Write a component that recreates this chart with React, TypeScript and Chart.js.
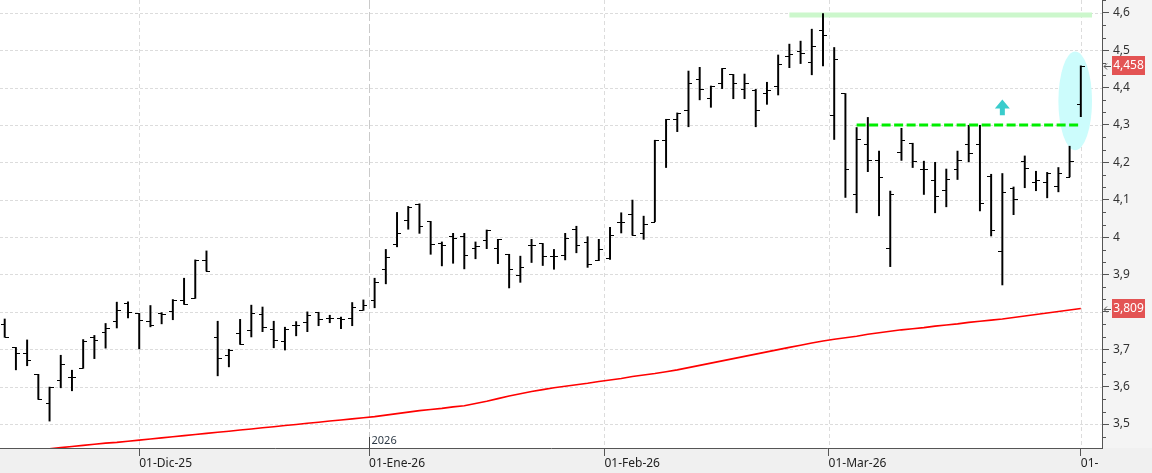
import { useEffect, useRef } from 'react';
import { Chart, registerables } from 'chart.js';

Chart.register(...registerables);

// Trading sessions (one OHLC bar per session)
const DATES = [
  '2025-11-13', '2025-11-14', '2025-11-17', '2025-11-18', '2025-11-19', '2025-11-20', '2025-11-21',
  '2025-11-24', '2025-11-25', '2025-11-26', '2025-11-27', '2025-11-28',
  '2025-12-01', '2025-12-02', '2025-12-03', '2025-12-04', '2025-12-05', '2025-12-08', '2025-12-09',
  '2025-12-10', '2025-12-11', '2025-12-12', '2025-12-15', '2025-12-16', '2025-12-17', '2025-12-18',
  '2025-12-19', '2025-12-22', '2025-12-23', '2025-12-24', '2025-12-29', '2025-12-30', '2025-12-31',
  '2026-01-02', '2026-01-05', '2026-01-06', '2026-01-07', '2026-01-08', '2026-01-09', '2026-01-12',
  '2026-01-13', '2026-01-14', '2026-01-15', '2026-01-16', '2026-01-19', '2026-01-20', '2026-01-21',
  '2026-01-22', '2026-01-23', '2026-01-26', '2026-01-27', '2026-01-28', '2026-01-29', '2026-01-30',
  '2026-02-02', '2026-02-03', '2026-02-04', '2026-02-05', '2026-02-06', '2026-02-09', '2026-02-10',
  '2026-02-11', '2026-02-12', '2026-02-13', '2026-02-16', '2026-02-17', '2026-02-18', '2026-02-19',
  '2026-02-20', '2026-02-23', '2026-02-24', '2026-02-25', '2026-02-26', '2026-02-27',
  '2026-03-02', '2026-03-03', '2026-03-04', '2026-03-05', '2026-03-06', '2026-03-09', '2026-03-10',
  '2026-03-11', '2026-03-12', '2026-03-13', '2026-03-16', '2026-03-17', '2026-03-18', '2026-03-19',
  '2026-03-20', '2026-03-23', '2026-03-24', '2026-03-25', '2026-03-26', '2026-03-27', '2026-03-30',
  '2026-03-31', '2026-04-01',
];

const OPEN = [
  3.767, 3.705, 3.689, 3.633, 3.555, 3.617, 3.626, 3.649, 3.734, 3.745, 3.775, 3.824,
  3.796, 3.775, 3.796, 3.802, 3.833, 3.836, 3.940, 3.734, 3.684, 3.743, 3.751, 3.794, 3.753, 3.721,
  3.764, 3.772, 3.799, 3.783, 3.784, 3.783, 3.806,
  3.832, 3.914, 3.981, 4.045, 4.088, 4.042, 3.983, 4.003, 4.003, 3.970, 3.991, 3.970, 3.954, 3.898,
  3.979, 3.983, 3.949, 3.951, 4.021, 3.987, 3.939,
  3.943, 4.041, 4.061, 4.010, 4.041, 4.259, 4.315, 4.339, 4.424, 4.371, 4.411, 4.435, 4.396, 4.393,
  4.384, 4.403, 4.484, 4.498, 4.468, 4.553,
  4.326, 4.384, 4.115, 4.248, 4.206, 3.970, 4.227, 4.251, 4.182, 4.152, 4.125, 4.182, 4.249, 4.249,
  4.164, 3.962, 4.132, 4.203, 4.146, 4.146, 4.136, 4.161, 4.356,
];
const HIGH = [
  3.781, 3.705, 3.725, 3.633, 3.599, 3.684, 3.644, 3.726, 3.737, 3.769, 3.826, 3.827,
  3.796, 3.817, 3.798, 3.833, 3.890, 3.939, 3.963, 3.775, 3.700, 3.780, 3.818, 3.813, 3.775, 3.759,
  3.774, 3.800, 3.799, 3.791, 3.786, 3.825, 3.832,
  3.890, 3.967, 4.066, 4.082, 4.089, 4.042, 3.987, 4.010, 4.010, 3.987, 4.019, 3.994, 3.954, 3.949,
  3.994, 3.983, 3.967, 4.010, 4.029, 4.001, 3.994,
  4.026, 4.065, 4.099, 4.056, 4.259, 4.315, 4.332, 4.444, 4.454, 4.404, 4.451, 4.435, 4.436, 4.395,
  4.414, 4.487, 4.516, 4.524, 4.556, 4.598,
  4.507, 4.384, 4.293, 4.320, 4.230, 4.123, 4.291, 4.251, 4.203, 4.200, 4.182, 4.230, 4.299, 4.299,
  4.168, 4.170, 4.134, 4.217, 4.176, 4.173, 4.186, 4.243, 4.458,
];
const LOW = [
  3.732, 3.645, 3.656, 3.566, 3.508, 3.597, 3.589, 3.649, 3.675, 3.703, 3.757, 3.784,
  3.701, 3.760, 3.768, 3.779, 3.820, 3.836, 3.909, 3.629, 3.653, 3.713, 3.733, 3.747, 3.704, 3.698,
  3.736, 3.747, 3.763, 3.771, 3.755, 3.763, 3.804,
  3.811, 3.875, 3.974, 4.021, 4.010, 3.954, 3.923, 3.930, 3.915, 3.942, 3.969, 3.929, 3.864, 3.879,
  3.932, 3.924, 3.914, 3.939, 3.958, 3.919, 3.937,
  3.940, 4.011, 4.005, 3.994, 4.041, 4.186, 4.282, 4.295, 4.367, 4.347, 4.397, 4.370, 4.370, 4.295,
  4.355, 4.380, 4.453, 4.464, 4.434, 4.458,
  4.261, 4.106, 4.065, 4.175, 4.057, 3.921, 4.205, 4.186, 4.114, 4.065, 4.081, 4.154, 4.201, 4.070,
  4.003, 3.872, 4.060, 4.132, 4.124, 4.105, 4.121, 4.161, 4.322,
];
const CLOSE = [
  3.732, 3.689, 3.671, 3.568, 3.599, 3.660, 3.626, 3.722, 3.725, 3.758, 3.804, 3.801,
  3.777, 3.765, 3.793, 3.833, 3.820, 3.939, 3.910, 3.676, 3.699, 3.713, 3.797, 3.759, 3.726, 3.755,
  3.766, 3.791, 3.780, 3.783, 3.782, 3.813, 3.818,
  3.879, 3.946, 4.010, 4.081, 4.029, 3.982, 3.978, 3.997, 3.951, 3.976, 4.019, 3.994, 3.914, 3.919,
  3.979, 3.949, 3.949, 3.998, 3.979, 3.929, 3.969,
  4.005, 4.041, 4.005, 4.034, 4.259, 4.315, 4.332, 4.411, 4.397, 4.404, 4.451, 4.411, 4.411, 4.341,
  4.392, 4.462, 4.489, 4.491, 4.510, 4.540,
  4.475, 4.182, 4.261, 4.206, 4.160, 4.115, 4.259, 4.203, 4.182, 4.111, 4.155, 4.206, 4.226, 4.090,
  4.020, 4.120, 4.103, 4.186, 4.152, 4.171, 4.171, 4.203, 4.458,
];

// Long moving average (red line)
const MA = [
  3.424, 3.426, 3.429, 3.431, 3.434, 3.437, 3.440, 3.443, 3.446, 3.449, 3.451, 3.454,
  3.457, 3.460, 3.463, 3.466, 3.469, 3.472, 3.475, 3.478, 3.481, 3.484, 3.487, 3.490, 3.493, 3.496,
  3.499, 3.502, 3.505, 3.508, 3.511, 3.514, 3.517,
  3.520, 3.524, 3.528, 3.532, 3.536, 3.539, 3.542, 3.546, 3.549, 3.555, 3.561, 3.568, 3.575, 3.581,
  3.587, 3.592, 3.597, 3.601, 3.605, 3.609, 3.614,
  3.618, 3.622, 3.627, 3.631, 3.635, 3.640, 3.645, 3.651, 3.657, 3.663, 3.669, 3.675, 3.681, 3.687,
  3.693, 3.699, 3.705, 3.711, 3.717, 3.722,
  3.727, 3.731, 3.735, 3.740, 3.744, 3.748, 3.752, 3.755, 3.758, 3.762, 3.765, 3.768, 3.772, 3.775,
  3.778, 3.781, 3.785, 3.789, 3.793, 3.797, 3.801, 3.805, 3.809,
];

// Axis ticks (x in session index units)
const MONTH_TICKS = [12, 32.5, 53.5, 73.5, 96];
const MONTH_LABELS = ['01-Dic-25', '01-Ene-26', '01-Feb-26', '01-Mar-26', '01-'];
const YEAR_TICK = 32.5;
const YEAR_LABEL = '2026';
const Y_TICKS = [3.5, 3.6, 3.7, 3.8, 3.9, 4.0, 4.1, 4.2, 4.3, 4.4, 4.5, 4.6];
const Y_LABELS = ['3,5', '3,6', '3,7', '3,8', '3,9', '4', '4,1', '4,2', '4,3', '4,4', '4,5', '4,6'];

// Annotations
const TOP_BAND_X = [70, 97];
const TOP_BAND_Y = 4.594;
const RESIST_X = [76, 96];
const RESIST_Y = 4.3;
const ARROW = { x: 89, top: 4.368, bottom: 4.326 };
const ELLIPSE = { x: 95.5, y: 4.364, rx: 1.5, ry: 0.132 };

const FONT = '"Noto Sans", "Liberation Sans", sans-serif';

const fmt = (v: number) => v.toFixed(3).replace('.', ',');

const decor = {
  id: 'decor',
  beforeDraw(chart: any) {
    const { ctx, chartArea: a, width, height } = chart;
    ctx.save();
    ctx.fillStyle = '#ffffff';
    ctx.fillRect(0, 0, width, height);
    ctx.fillStyle = '#f4f4f4';
    ctx.fillRect(a.right, 0, width - a.right, a.bottom);
    ctx.fillStyle = '#f0f0f0';
    ctx.fillRect(0, a.bottom, width, height - a.bottom);
    ctx.restore();
  },
  beforeDatasetsDraw(chart: any) {
    const { ctx, chartArea: a, scales } = chart;
    const x = scales.x;
    const y = scales.y;
    ctx.save();
    ctx.lineWidth = 1;
    ctx.strokeStyle = '#dcdcdc';
    ctx.setLineDash([3, 2]);
    Y_TICKS.forEach((v) => {
      const py = Math.round(y.getPixelForValue(v)) + 0.5;
      ctx.beginPath();
      ctx.moveTo(a.left, py);
      ctx.lineTo(a.right, py);
      ctx.stroke();
    });
    MONTH_TICKS.forEach((v) => {
      const px = Math.round(x.getPixelForValue(v)) + 0.5;
      const isYear = v === YEAR_TICK;
      ctx.strokeStyle = isYear ? '#cacaca' : '#dcdcdc';
      ctx.setLineDash(isYear ? [9, 3] : [4, 3]);
      ctx.beginPath();
      ctx.moveTo(px, a.top);
      ctx.lineTo(px, a.bottom);
      ctx.stroke();
    });
    ctx.setLineDash([]);
    const cx = x.getPixelForValue(ELLIPSE.x);
    const cy = y.getPixelForValue(ELLIPSE.y);
    const rx = Math.abs(x.getPixelForValue(ELLIPSE.x + ELLIPSE.rx) - cx);
    const ry = Math.abs(y.getPixelForValue(ELLIPSE.y + ELLIPSE.ry) - cy);
    ctx.fillStyle = '#ccfcfc';
    ctx.beginPath();
    ctx.ellipse(cx, cy, rx, ry, 0, 0, Math.PI * 2);
    ctx.fill();
    ctx.restore();
  },
  afterDatasetDraw(chart: any, args: any) {
    if (args.index !== 0) return;
    const { ctx, scales } = chart;
    const x = scales.x;
    const y = scales.y;
    ctx.save();
    ctx.strokeStyle = '#000000';
    ctx.lineWidth = 1;
    DATES.forEach((_, i) => {
      const px = Math.round(x.getPixelForValue(i));
      const po = Math.round(y.getPixelForValue(OPEN[i])) + 0.5;
      const pc = Math.round(y.getPixelForValue(CLOSE[i])) + 0.5;
      ctx.beginPath();
      ctx.moveTo(px - 4, po);
      ctx.lineTo(px, po);
      ctx.moveTo(px, pc);
      ctx.lineTo(px + 4, pc);
      ctx.stroke();
    });
    ctx.restore();
  },
  afterDraw(chart: any) {
    const { ctx, chartArea: a, scales } = chart;
    const x = scales.x;
    const y = scales.y;
    ctx.save();
    // minor ticks on price axis
    ctx.strokeStyle = '#555555';
    ctx.lineWidth = 1;
    const step = 0.1 / 3;
    [3.4, ...Y_TICKS].forEach((v) => {
      [1, 2].forEach((k) => {
        const val = v + k * step;
        if (val < y.min || val > y.max) return;
        const py = Math.round(y.getPixelForValue(val)) + 0.5;
        ctx.beginPath();
        ctx.moveTo(a.right, py);
        ctx.lineTo(a.right + 4, py);
        ctx.stroke();
      });
    });
    // year marker
    const yx = Math.round(x.getPixelForValue(YEAR_TICK)) + 0.5;
    ctx.strokeStyle = '#444444';
    ctx.beginPath();
    ctx.moveTo(yx, a.bottom - 11);
    ctx.lineTo(yx, a.bottom);
    ctx.stroke();
    ctx.fillStyle = '#2e3a46';
    ctx.font = `11px ${FONT}`;
    ctx.textAlign = 'left';
    ctx.textBaseline = 'alphabetic';
    ctx.fillText(YEAR_LABEL, yx + 2, a.bottom - 4);
    // cyan arrow
    const ax = x.getPixelForValue(ARROW.x);
    const at = y.getPixelForValue(ARROW.top);
    const ab = y.getPixelForValue(ARROW.bottom);
    ctx.fillStyle = '#3acccc';
    ctx.beginPath();
    ctx.moveTo(ax, at);
    ctx.lineTo(ax + 7.5, at + 9);
    ctx.lineTo(ax + 2.5, at + 9);
    ctx.lineTo(ax + 2.5, ab);
    ctx.lineTo(ax - 2.5, ab);
    ctx.lineTo(ax - 2.5, at + 9);
    ctx.lineTo(ax - 7.5, at + 9);
    ctx.closePath();
    ctx.fill();
    // price tags
    const tag = (value: number) => {
      const py = y.getPixelForValue(value);
      const top = Math.round(py - 9.5);
      ctx.fillStyle = '#e35353';
      ctx.fillRect(a.right + 10, top, 33, 19);
      ctx.fillStyle = '#ffffff';
      ctx.font = `12px ${FONT}`;
      ctx.textAlign = 'center';
      ctx.textBaseline = 'middle';
      ctx.fillText(fmt(value), a.right + 26.5, top + 10);
      const ly = Math.round(py) + 0.5;
      ctx.strokeStyle = '#555555';
      ctx.beginPath();
      ctx.moveTo(a.right + 2, ly);
      ctx.lineTo(a.right + 9, ly);
      ctx.moveTo(a.right + 5, ly - 3);
      ctx.lineTo(a.right + 2, ly);
      ctx.lineTo(a.right + 5, ly + 3);
      ctx.stroke();
    };
    tag(CLOSE[CLOSE.length - 1]);
    tag(MA[MA.length - 1]);
    ctx.restore();
  },
};

export default function App() {
  const ref = useRef<HTMLCanvasElement | null>(null);

  useEffect(() => {
    document.body.style.margin = '0';
    const canvas = ref.current;
    if (!canvas) return;
    const chart = new Chart(canvas, {
      type: 'bar',
      data: {
        datasets: [
          {
            type: 'bar',
            label: 'Rango',
            data: DATES.map((_, i) => ({ x: i, y: [LOW[i], HIGH[i]] })) as any,
            backgroundColor: '#000000',
            borderWidth: 0,
            barThickness: 1.3,
            grouped: false,
            order: 2,
          } as any,
          {
            type: 'line',
            label: 'Media',
            data: MA.map((v, i) => ({ x: i, y: v })),
            borderColor: '#ff0000',
            borderWidth: 1.6,
            pointRadius: 0,
            tension: 0,
            clip: 0,
            order: 3,
          } as any,
          {
            type: 'line',
            label: 'Máximo',
            data: TOP_BAND_X.map((v) => ({ x: v, y: TOP_BAND_Y })),
            borderColor: '#ccf7cc',
            borderWidth: 5,
            pointRadius: 0,
            order: 4,
          } as any,
          {
            type: 'line',
            label: 'Resistencia',
            data: RESIST_X.map((v) => ({ x: v, y: RESIST_Y })),
            borderColor: '#00ee00',
            borderWidth: 3,
            borderDash: [9, 3.5],
            pointRadius: 0,
            order: 1,
          } as any,
        ],
      },
      options: {
        animation: false,
        responsive: false,
        maintainAspectRatio: false,
        devicePixelRatio: 1,
        layout: { padding: 0, autoPadding: false } as any,
        plugins: { legend: { display: false }, tooltip: { enabled: false } },
        scales: {
          x: {
            type: 'linear',
            position: 'bottom',
            min: -0.42,
            max: 97.89,
            offset: false,
            afterBuildTicks: (s: any) => {
              s.ticks = MONTH_TICKS.map((v) => ({ value: v }));
            },
            afterFit: (s: any) => {
              s.height = 25;
              s.paddingLeft = 0;
              s.paddingRight = 0;
              s.paddingTop = 0;
              s.paddingBottom = 0;
            },
            ticks: {
              callback: (_v: any, i: number) => MONTH_LABELS[i],
              align: 'start',
              padding: 0,
              autoSkip: false,
              maxRotation: 0,
              minRotation: 0,
              color: '#222222',
              font: { family: FONT, size: 12 },
            },
            grid: { drawOnChartArea: false, drawTicks: true, tickLength: 8, tickColor: '#555555', offset: false },
            border: { display: true, color: '#555555', width: 1 },
          } as any,
          y: {
            type: 'linear',
            position: 'right',
            min: 3.436,
            max: 4.634,
            beginAtZero: false,
            afterBuildTicks: (s: any) => {
              s.ticks = Y_TICKS.map((v) => ({ value: v }));
            },
            afterFit: (s: any) => {
              s.width = 50;
              s.paddingTop = 0;
              s.paddingBottom = 0;
              s.paddingLeft = 0;
              s.paddingRight = 0;
            },
            ticks: {
              callback: (_v: any, i: number) => Y_LABELS[i],
              padding: 4,
              autoSkip: false,
              color: '#333333',
              font: { family: FONT, size: 12 },
            },
            grid: { drawOnChartArea: false, drawTicks: true, tickLength: 7, tickColor: '#555555' },
            border: { display: true, color: '#555555', width: 1 },
          } as any,
        },
      },
      plugins: [decor as any],
    });
    return () => chart.destroy();
  }, []);

  return <canvas ref={ref} width={1152} height={473} style={{ display: 'block', width: 1152, height: 473 }} />;
}
